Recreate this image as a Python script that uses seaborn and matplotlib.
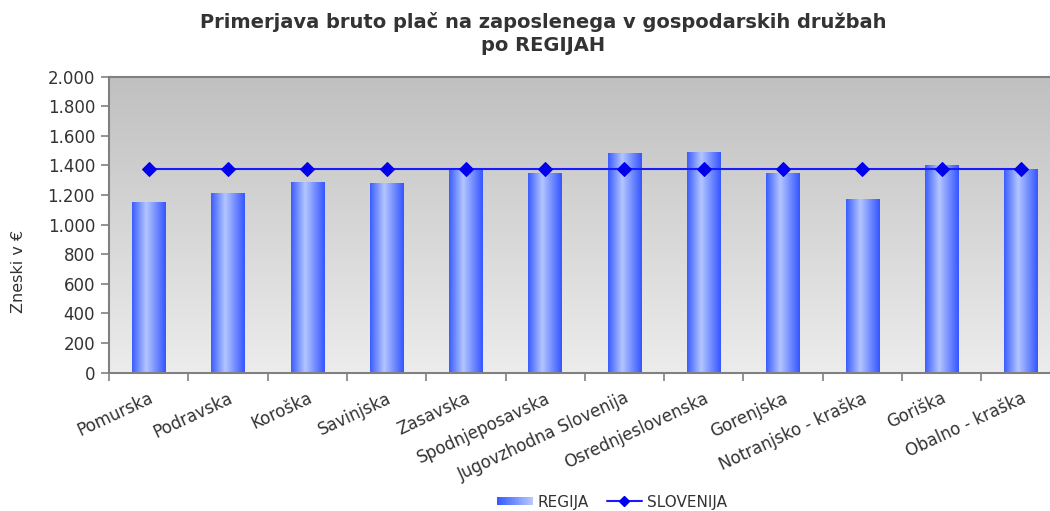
import numpy as np
import pandas as pd
import matplotlib
matplotlib.use("Agg")
import matplotlib.pyplot as plt
import seaborn as sns
from matplotlib.colors import LinearSegmentedColormap
from matplotlib.legend_handler import HandlerBase
from matplotlib.patches import Rectangle
from matplotlib.lines import Line2D
from matplotlib.ticker import FuncFormatter

# ---- data ----
regions = ["Pomurska", "Podravska", "Koroška", "Savinjska", "Zasavska",
           "Spodnjeposavska", "Jugovzhodna Slovenija", "Osrednjeslovenska",
           "Gorenjska", "Notranjsko - kraška", "Goriška", "Obalno - kraška"]
regija = [1150, 1210, 1285, 1280, 1375, 1345, 1480, 1487, 1345, 1170, 1400, 1378]
slovenija = [1375, 1375, 1375, 1375, 1375, 1375, 1375, 1375, 1375, 1375, 1375, 1375]
y_ticks = [0, 200, 400, 600, 800, 1000, 1200, 1400, 1600, 1800, 2000]

title = "Primerjava bruto plač na zaposlenega v gospodarskih družbah\npo REGIJAH"
ylabel = "Zneski v €"

df = pd.DataFrame({"regija": regions, "REGIJA": regija, "SLOVENIJA": slovenija})

sns.set_theme(style="white")
plt.rcParams["font.family"] = ["DejaVu Sans"]

fig = plt.figure(figsize=(10.5, 5.11), dpi=100)
ax = fig.add_axes([109/1050, 1-372.5/511, 951.6/1050, 296/511])

bar_cmap = LinearSegmentedColormap.from_list(
    "barg", [(0.0, "#3a5cff"), (0.42, "#b3c6ff"), (1.0, "#3555ff")])
bg_cmap = LinearSegmentedColormap.from_list("bg", ["#c0c0c0", "#ececec"])

sns.barplot(data=df, x="regija", y="REGIJA", ax=ax, width=0.42,
            color="#6f8cff", saturation=1, zorder=2)

n = len(regions)
# background gradient: dark at top, light at bottom
grad_v = np.linspace(0, 1, 256).reshape(-1, 1)
ax.imshow(grad_v, cmap=bg_cmap, aspect="auto", extent=(-0.5, n - 0.5, 0, 2000),
          zorder=0, origin="upper")

# gradient fill for bars
grad_h = np.linspace(0, 1, 256).reshape(1, -1)
for p in ax.patches:
    x0, y0 = p.get_x(), p.get_y()
    w, h = p.get_width(), p.get_height()
    im = ax.imshow(grad_h, cmap=bar_cmap, aspect="auto",
                   extent=(x0, x0 + w, y0, y0 + h), zorder=2)
    im.set_clip_path(p)
    p.set_facecolor("none")
    p.set_edgecolor("none")

sns.lineplot(data=df, x="regija", y="SLOVENIJA", ax=ax, color="#1a1aff",
             linewidth=1.5, marker="D", markersize=7.5, markeredgecolor="#0000ee",
             markerfacecolor="#0000ee", sort=False, zorder=3, legend=False)

ax.set_xlim(-0.5, n - 0.5)
ax.set_ylim(0, 2000)

# axes styling
for s in ["left", "bottom", "top"]:
    ax.spines[s].set_visible(True)
    ax.spines[s].set_color("#808080")
    ax.spines[s].set_linewidth(1.5)
ax.spines["right"].set_visible(False)

ax.set_yticks(y_ticks)
ax.yaxis.set_major_formatter(FuncFormatter(lambda v, _: f"{int(v):,}".replace(",", ".")))
ax.tick_params(axis="y", direction="out", length=6, width=1.2, color="#808080",
               labelsize=12, labelcolor="#333333", pad=4, left=True)

ax.set_xticks(range(n))
ax.set_xticklabels(regions, rotation=25, ha="right", rotation_mode="anchor")
ax.set_xticks(np.arange(n) - 0.5, minor=True)
ax.tick_params(axis="x", which="major", length=0, labelsize=12,
               labelcolor="#333333", pad=12)
ax.tick_params(axis="x", which="minor", direction="out", length=6, width=1.2,
               color="#808080", bottom=True)
ax.set_xlabel("")
ax.set_ylabel(ylabel, fontsize=11.5, color="#333333")
ax.yaxis.set_label_coords(-0.087, 0.34)
ax.grid(False)

fig.suptitle(title, x=0.517, y=1 - 12/511, va="top", fontsize=14,
             fontweight="bold", color="#333333", linespacing=1.25)


class GradientHandler(HandlerBase):
    def create_artists(self, legend, orig_handle, xdescent, ydescent, width,
                       height, fontsize, trans):
        k = 24
        arts = []
        for i in range(k):
            r = Rectangle((-xdescent + width * i / k, -ydescent + height * 0.1),
                          width / k + 0.3, height * 0.75,
                          facecolor=bar_cmap(0.42 * i / (k - 1)), edgecolor="none",
                          transform=trans)
            arts.append(r)
        return arts


bar_handle = Rectangle((0, 0), 1, 1)
line_handle = Line2D([], [], color="#1a1aff", linewidth=1.5, marker="D",
                     markersize=5, markerfacecolor="#0000ee", markeredgecolor="#0000ee")
fig.legend([bar_handle, line_handle], ["REGIJA", "SLOVENIJA"],
           handler_map={Rectangle: GradientHandler()},
           loc="center", bbox_to_anchor=(612/1050, 1 - 502/511), ncol=2,
           frameon=False, fontsize=11, labelcolor="#333333",
           handlelength=2.3, handletextpad=0.3, columnspacing=1.2)

fig.savefig("out.png", dpi=100)
